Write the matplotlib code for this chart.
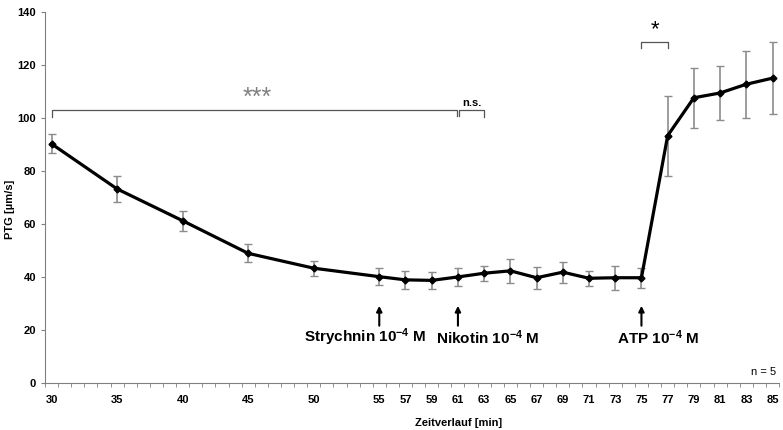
import numpy as np
import matplotlib
matplotlib.use("Agg")
import matplotlib.pyplot as plt

plt.rcParams['font.family'] = ['Liberation Sans', 'DejaVu Sans']
plt.rcParams['mathtext.fontset'] = 'custom'
plt.rcParams['mathtext.rm'] = 'Liberation Sans'
plt.rcParams['mathtext.bf'] = 'Liberation Sans:bold'

# Zeitpunkte [min] und Mittelwerte PTG [µm/s] mit Standardabweichung
zeit = [30, 35, 40, 45, 50, 55, 57, 59, 61, 63, 65, 67, 69, 71, 73, 75, 77, 79, 81, 83, 85]
ptg = [90.1, 73.1, 61.1, 48.8, 43.2, 40.0, 38.8, 38.6, 39.9, 41.3, 42.2, 39.6, 41.7,
       39.4, 39.6, 39.6, 93.2, 107.5, 109.3, 112.6, 114.9]
fehler = [3.6, 5.0, 3.8, 3.4, 2.9, 3.2, 3.5, 3.1, 3.3, 2.9, 4.4, 4.2, 4.0,
          2.9, 4.6, 3.8, 15.1, 11.4, 10.3, 12.7, 13.6]
tick_labels = [30, 35, 40, 45, 50, 55, 57, 59, 61, 63, 65, 67, 69, 71, 73, 75, 77, 79, 81, 83, 85]

grau = '#808080'

fig = plt.figure(figsize=(7.83, 4.30), dpi=100)
ax = fig.add_axes([0.0575, 0.110, 0.9375, 0.863])

ax.errorbar(zeit, ptg, yerr=fehler, fmt='none', ecolor='#8c8c8c', elinewidth=1.2,
            capsize=3, capthick=1.0, zorder=2)
ax.plot(zeit, ptg, color='black', lw=2.3, marker='D', ms=3.5, zorder=3)

ax.set_xlim(29.5, 85.5)
ax.set_ylim(0, 140)
ax.set_xticks(tick_labels)
ax.set_xticklabels([str(t) for t in tick_labels], fontweight='bold', fontsize=8)
ax.set_xticks(np.arange(29.5, 86, 1), minor=True)
ax.tick_params(axis='x', which='major', length=0, pad=9)
ax.tick_params(axis='x', which='minor', length=3, color=grau, direction='out')
ax.set_yticks(np.arange(0, 141, 20))
ax.set_yticklabels([str(v) for v in range(0, 141, 20)], fontweight='bold', fontsize=8)
ax.tick_params(axis='y', length=3, color=grau)

for s in ['top', 'right']:
    ax.spines[s].set_visible(False)
for s in ['left', 'bottom']:
    ax.spines[s].set_color(grau)

ax.set_ylabel('PTG [µm/s]', fontweight='bold', fontsize=8)
ax.yaxis.set_label_coords(-0.041, 0.468)
ax.set_xlabel('Zeitverlauf [min]', fontweight='bold', fontsize=8)
ax.xaxis.set_label_coords(0.563, -0.095)

# Signifikanz-Klammern
lw_k = 0.9
ax.plot([30, 30, 60.9, 60.9], [100.3, 102.9, 102.9, 100.6], color='#555555', lw=lw_k)
ax.text(45.7, 103.0, '***', color=grau, fontsize=18, ha='center', va='bottom')
ax.plot([61.1, 61.1, 63, 63], [100.6, 102.9, 102.9, 100.3], color='#555555', lw=lw_k)
ax.text(62.1, 103.8, 'n.s.', fontweight='bold', fontsize=8, ha='center', va='bottom')
ax.plot([75, 75, 77, 77], [126.3, 128.7, 128.7, 126.3], color='#555555', lw=lw_k)
ax.text(76, 129.2, '*', fontsize=16, ha='center', va='bottom')

# Applikationen
for x, label, tx in [(55, r'Strychnin 10$\mathbf{^{-4}}$ M', 53.9),
                     (61, r'Nikotin 10$\mathbf{^{-4}}$ M', 63.3),
                     (75, r'ATP 10$\mathbf{^{-4}}$ M', 76.3)]:
    ax.annotate('', xy=(x, 29), xytext=(x, 21.5),
                arrowprops=dict(arrowstyle='-|>', color='black', lw=1.5,
                                mutation_scale=8, shrinkA=0, shrinkB=0))
    ax.text(tx, 17, label, fontweight='bold', fontsize=11, ha='center', va='center')

ax.text(85.3, 4, 'n = 5', fontsize=8, ha='right', va='center')

fig.savefig('out.png', dpi=100)
